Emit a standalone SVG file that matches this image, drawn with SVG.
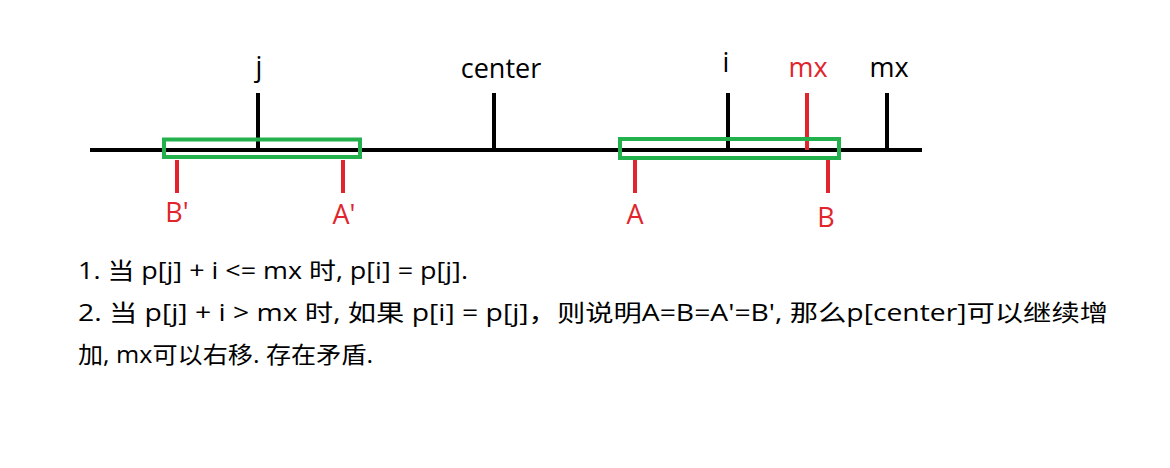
<svg xmlns="http://www.w3.org/2000/svg" width="1170" height="468" viewBox="0 0 1170 468">
<style>
.blk{stroke:#000;stroke-width:4;fill:none}
.red{stroke:#e0262c;stroke-width:4;fill:none}
.grn{stroke:#22b14c;stroke-width:4;fill:none}
.lbl{font-family:"Open Sans","Noto Sans",sans-serif;font-size:27px;text-anchor:middle}
.lb{fill:#000}
.lr{fill:#e0262c}
.body{font-family:"Open Sans","Noto Sans CJK SC",sans-serif;font-size:23px;fill:#000}
</style>
<rect width="1170" height="468" fill="#fff"/>
<g id="connectors">
<line class="blk" x1="90" y1="150" x2="922" y2="150"/>
</g>
<g id="tick-j"><line class="blk" x1="258" y1="93" x2="258" y2="150"/><text class="lbl lb" x="259" y="76">j</text></g>
<g id="tick-center"><line class="blk" x1="494" y1="93" x2="494" y2="150"/><text class="lbl lb" x="501" y="78">center</text></g>
<g id="tick-i"><line class="blk" x1="728" y1="93" x2="728" y2="150"/><text class="lbl lb" x="726" y="72">i</text></g>
<g id="tick-mx-red"><line class="red" x1="807" y1="93" x2="807" y2="150"/><text class="lbl lr" x="808" y="77">mx</text></g>
<g id="tick-mx"><line class="blk" x1="887" y1="93" x2="887" y2="150"/><text class="lbl lb" x="889" y="77">mx</text></g>
<g id="box-left"><rect class="grn" x="164" y="139.5" width="196" height="17.5"/></g>
<g id="box-right"><rect class="grn" x="620" y="139" width="219" height="19"/></g>
<g id="mark-B1"><line class="red" x1="177" y1="160" x2="177" y2="193"/><text class="lbl lr" x="177" y="222">B'</text></g>
<g id="mark-A1"><line class="red" x1="343" y1="160" x2="343" y2="193"/><text class="lbl lr" x="344" y="224">A'</text></g>
<g id="mark-A"><line class="red" x1="635" y1="160" x2="635" y2="193"/><text class="lbl lr" x="635" y="224">A</text></g>
<g id="mark-B"><line class="red" x1="828" y1="160" x2="828" y2="193"/><text class="lbl lr" x="826" y="227">B</text></g>
<g id="notes">
<text class="body" x="78" y="279" textLength="390" lengthAdjust="spacingAndGlyphs">1. 当 p[j] + i &lt;= mx 时, p[i] = p[j].</text>
<text class="body" x="78" y="321" textLength="1030" lengthAdjust="spacingAndGlyphs">2. 当 p[j] + i &gt; mx 时, 如果 p[i] = p[j]，则说明A=B=A'=B', 那么p[center]可以继续增</text>
<text class="body" x="78" y="363" textLength="295" lengthAdjust="spacingAndGlyphs">加, mx可以右移. 存在矛盾.</text>
</g>
</svg>
